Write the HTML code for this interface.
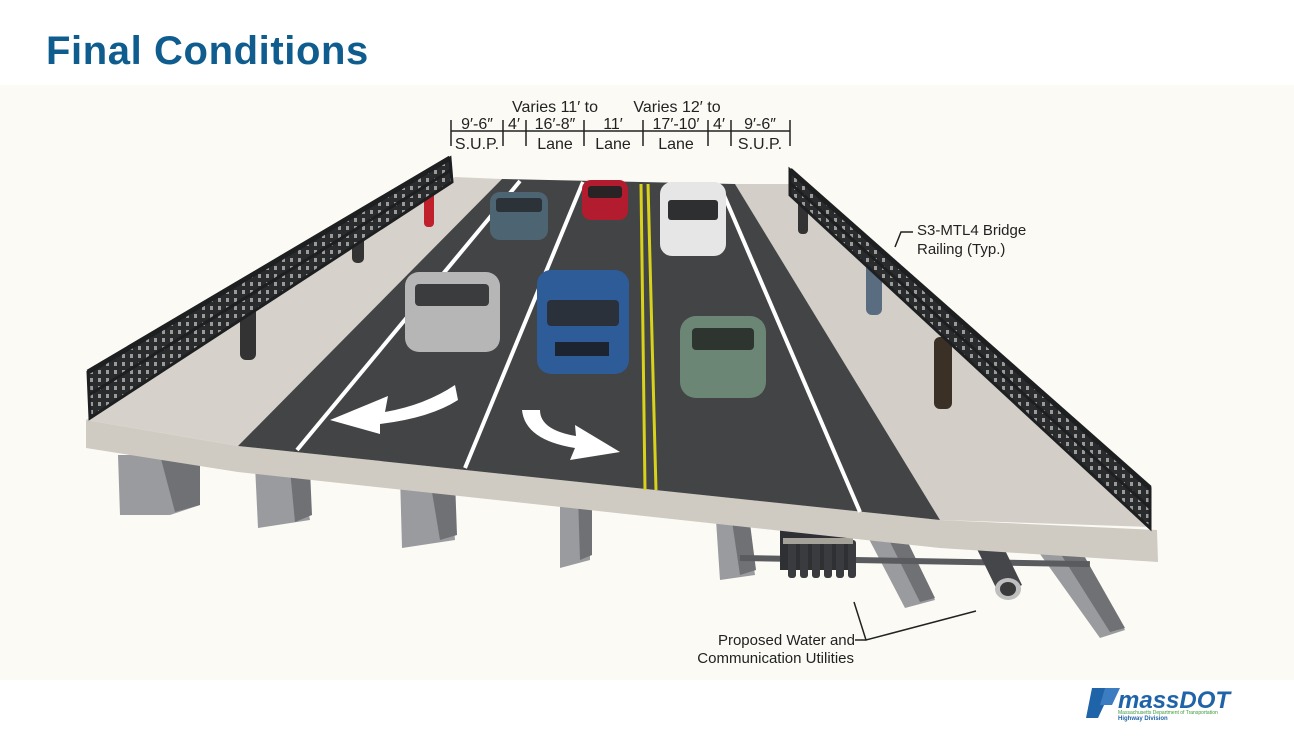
<!DOCTYPE html>
<html><head><meta charset="utf-8"><style>
html,body{margin:0;padding:0;background:#fff;}
body{width:1294px;height:738px;overflow:hidden;position:relative;font-family:"Liberation Sans",sans-serif;}
h1{position:absolute;left:46px;top:29px;margin:0;font-size:40px;font-weight:bold;color:#0f5d8f;letter-spacing:0.6px;}
svg{position:absolute;left:0;top:0;}
</style></head><body>
<svg width="1294" height="738" viewBox="0 0 1294 738">
<defs>
<pattern id="rp" width="8" height="8" patternUnits="userSpaceOnUse">
<rect width="8" height="8" fill="#2a2b2d"/><rect x="2" y="2" width="3" height="4" fill="#9a9a9a"/>
</pattern>
</defs>
<rect x="0" y="85" width="1294" height="595" fill="#fbfaf5"/>
<!-- girders -->
<g fill="#9a9b9f">
<polygon points="118,455 150,455 170,515 120,515"/>
<polygon points="140,450 200,455 200,505 170,515"/>
<polygon points="255,465 300,468 310,520 258,528"/>
<polygon points="400,475 450,478 455,540 402,548"/>
<polygon points="560,490 590,492 590,560 560,568"/>
<polygon points="715,505 745,507 755,575 720,580"/>
<polygon points="858,518 895,520 935,600 905,608"/>
<polygon points="1030,540 1075,542 1125,630 1100,638"/>
</g>
<g fill="#707175">
<polygon points="160,455 200,455 200,505 175,512"/>
<polygon points="290,470 310,470 312,515 295,522"/>
<polygon points="430,480 455,480 457,535 440,540"/>
<polygon points="578,495 592,495 592,555 580,560"/>
<polygon points="730,508 748,508 756,570 740,575"/>
<polygon points="880,522 898,522 935,598 920,602"/>
<polygon points="1055,545 1078,545 1125,628 1110,632"/>
</g>
<!-- utilities -->
<rect x="740" y="555" width="350" height="6" fill="#5a5b5e" transform="rotate(1 740 555)"/>
<rect x="780" y="520" width="70" height="50" fill="#2f3033"/>
<g fill="#3a3b3e">
<rect x="788" y="540" width="8" height="38" rx="3"/><rect x="800" y="540" width="8" height="38" rx="3"/><rect x="812" y="540" width="8" height="38" rx="3"/><rect x="824" y="540" width="8" height="38" rx="3"/><rect x="836" y="540" width="8" height="38" rx="3"/><rect x="848" y="540" width="8" height="38" rx="3"/>
</g>
<rect x="783" y="538" width="70" height="6" fill="#a5a29a"/>
<polygon points="975,545 1000,540 1022,585 1000,596" fill="#45464a"/>
<ellipse cx="1008" cy="589" rx="13" ry="11" fill="#bfbfbf"/>
<ellipse cx="1008" cy="589" rx="8" ry="7" fill="#3a3a3a"/>
<!-- deck front face -->
<polygon points="86,420 238,446 940,520 1157,530 1158,562 940,548 238,472 86,448" fill="#cfcac2"/>
<polygon points="455,177 502,179 238,446 86,420" fill="#d6d2cb"/>
<polygon points="735,184 790,184 1152,527 940,520" fill="#d3cfc8"/>
<polygon points="502,179 735,184 940,520 238,446" fill="#434446"/>
<g stroke="#fff" stroke-width="4" fill="none">
<line x1="520" y1="181" x2="297" y2="450"/>
<line x1="583" y1="182" x2="465" y2="468"/>
<line x1="720" y1="186" x2="860" y2="512"/>
</g>
<g stroke="#d8d21a" stroke-width="3">
<line x1="641" y1="184" x2="645" y2="490"/>
<line x1="648" y1="184" x2="656" y2="490"/>
</g>
<path d="M455,385 Q425,405 385,412 L388,396 L330,420 L380,434 L380,424 Q430,418 458,400 Z" fill="#fff"/>
<path d="M522,410 Q525,440 575,448 L570,460 L620,452 L575,425 L576,436 Q540,430 540,410 Z" fill="#fff"/>
<g>
<rect x="490" y="192" width="58" height="48" rx="10" fill="#4d6472"/>
<rect x="496" y="198" width="46" height="14" rx="3" fill="#2b3238"/>
<rect x="582" y="180" width="46" height="40" rx="9" fill="#b21c2e"/>
<rect x="588" y="186" width="34" height="12" rx="3" fill="#2a2325"/>
<rect x="660" y="182" width="66" height="74" rx="12" fill="#e6e6e6"/>
<rect x="668" y="200" width="50" height="20" rx="3" fill="#2d2f31"/>
<rect x="405" y="272" width="95" height="80" rx="14" fill="#b6b6b6"/>
<rect x="415" y="284" width="74" height="22" rx="4" fill="#3a3c3e"/>
<rect x="537" y="270" width="92" height="104" rx="14" fill="#2d5c98"/>
<rect x="547" y="300" width="72" height="26" rx="4" fill="#2b313a"/>
<rect x="555" y="342" width="54" height="14" fill="#1c2430"/>
<rect x="680" y="316" width="86" height="82" rx="16" fill="#6c8676"/>
<rect x="692" y="328" width="62" height="22" rx="4" fill="#2e3531"/>
</g>
<g fill="#333">
<rect x="240" y="300" width="16" height="60" rx="6"/>
<rect x="352" y="215" width="12" height="48" rx="5"/>
<rect x="424" y="185" width="10" height="42" rx="4" fill="#c0202c"/>
<rect x="798" y="192" width="10" height="42" rx="4"/>
<rect x="866" y="255" width="16" height="60" rx="6" fill="#5a6c80"/>
<rect x="934" y="337" width="18" height="72" rx="6" fill="#3b3026"/>
</g>
<!-- railings -->
<polygon points="450,158 452,182 90,418 88,372" fill="url(#rp)" stroke="#1e1f21" stroke-width="3"/>
<g stroke="#1e1f21" fill="none">
<line x1="450" y1="158" x2="88" y2="372" stroke-width="5"/>
<line x1="451" y1="170" x2="89" y2="395" stroke-width="3"/>
</g>
<polygon points="790,170 790,195 1150,528 1150,488" fill="url(#rp)" stroke="#1e1f21" stroke-width="3"/>
<g stroke="#1e1f21" fill="none">
<line x1="790" y1="170" x2="1150" y2="488" stroke-width="5"/>
<line x1="790" y1="183" x2="1150" y2="508" stroke-width="3"/>
</g>
<!-- dimension header -->
<g stroke="#222" stroke-width="1.5">
<line x1="451" y1="131" x2="790" y2="131"/>
<line x1="451" y1="120" x2="451" y2="146"/>
<line x1="503" y1="120" x2="503" y2="146"/>
<line x1="526" y1="120" x2="526" y2="146"/>
<line x1="584" y1="120" x2="584" y2="146"/>
<line x1="643" y1="120" x2="643" y2="146"/>
<line x1="708" y1="120" x2="708" y2="146"/>
<line x1="731" y1="120" x2="731" y2="146"/>
<line x1="790" y1="120" x2="790" y2="146"/>
</g>
<g font-family="Liberation Sans,sans-serif" font-size="16" fill="#222" text-anchor="middle">
<text x="555" y="112">Varies 11′ to</text>
<text x="677" y="112">Varies 12′ to</text>
<text x="477" y="129">9′-6″</text><text x="514" y="129">4′</text><text x="555" y="129">16′-8″</text><text x="613" y="129">11′</text><text x="676" y="129">17′-10′</text><text x="719" y="129">4′</text><text x="760" y="129">9′-6″</text>
<text x="477" y="149">S.U.P.</text><text x="555" y="149">Lane</text><text x="613" y="149">Lane</text><text x="676" y="149">Lane</text><text x="760" y="149">S.U.P.</text>
</g>
<polyline points="895,247 901,232 913,232" stroke="#222" stroke-width="1.5" fill="none"/>
<g font-family="Liberation Sans,sans-serif" font-size="15" fill="#222">
<text x="917" y="235">S3-MTL4 Bridge</text>
<text x="917" y="254">Railing (Typ.)</text>
</g>
<polyline points="854,602 866,640 976,611" stroke="#222" stroke-width="1.5" fill="none"/>
<polyline points="855,640 866,640" stroke="#222" stroke-width="1.5"/>
<g font-family="Liberation Sans,sans-serif" font-size="15" fill="#222" text-anchor="end">
<text x="855" y="645">Proposed Water and</text>
<text x="854" y="663">Communication Utilities</text>
</g>
<polygon points="1092,688 1112,688 1098,718 1086,718" fill="#1f63a8"/>
<polygon points="1105,688 1120,688 1112,705 1100,705" fill="#3c7cc0"/>
<text x="1118" y="708" font-family="Liberation Sans,sans-serif" font-size="24" font-style="italic" font-weight="bold" fill="#1f63a8">massDOT</text>
<text x="1118" y="714" font-family="Liberation Sans,sans-serif" font-size="5" fill="#3a9a3a">Massachusetts Department of Transportation</text>
<text x="1118" y="720" font-family="Liberation Sans,sans-serif" font-size="6" font-weight="bold" fill="#1f63a8">Highway Division</text>
</svg>
<h1>Final Conditions</h1>
</body></html>
